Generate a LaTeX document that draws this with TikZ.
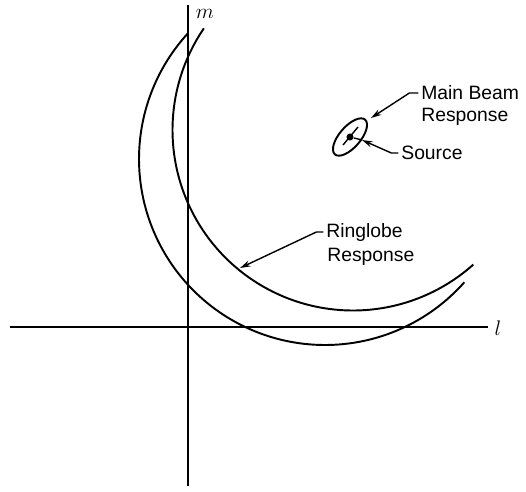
\documentclass[tikz,border=0pt]{standalone}
\usepackage{fontspec}
\setmainfont{Liberation Sans}
\usetikzlibrary{arrows.meta}
\begin{document}
\begin{tikzpicture}[
    x=0.02cm,
    y=-0.02cm,
    font=\fontsize{11}{13}\selectfont,
    >={Stealth[length=6pt,width=3.5pt]},
    axis/.style={line width=1.1pt},
    lobe/.style={line width=1.1pt},
    leader/.style={line width=0.8pt},
    tag/.style={anchor=west, inner sep=0pt},
    axlabel/.style={font=\fontsize{13}{15}\selectfont}
]
    \useasboundingbox (0,0) rectangle (526,491);

    % axes
    \coordinate (m-top) at (188,5);
    \coordinate (m-bot) at (188,486);
    \coordinate (l-left) at (10,327);
    \coordinate (l-right) at (488,327);
    \draw[axis] (m-bot) -- (m-top);
    \draw[axis] (l-left) -- (l-right);
    \node[axlabel] (m-label) at (205,14) {$m$};
    \node[axlabel] (l-label) at (498,328) {$l$};

    % ringlobe arcs
    \draw[lobe] plot[domain=-137.6:-318.5, samples=120]
        ({325+186*cos(\x)}, {159+186*sin(\x)});
    \draw[lobe] plot[domain=-145.7:-311.8, samples=120]
        ({353+180.5*cos(\x)}, {130+180.5*sin(\x)});

    % main beam and source
    \draw[lobe, rotate around={49:(350,137)}] (350,137) ellipse [x radius=23, y radius=10.5];
    \draw[leader] (343,145) -- (358,127);
    \node[circle, fill, inner sep=0pt, minimum size=4pt] (src-dot) at (350,137) {};

    % labels
    \node[tag] (mainbeam) at (421,93) {Main Beam};
    \node[tag] (mainbeam-resp) at (421,117) {Response};
    \node[tag] (source) at (401,153) {Source};
    \node[tag] (ringlobe) at (326,232) {Ringlobe};
    \node[tag] (ringlobe-resp) at (327,257) {Response};

    \coordinate (beam-tip) at (371,118);
    \coordinate (src-tip) at (362,140);
    \coordinate (ring-tip) at (240,268);
    \draw[leader,->] ([xshift=-1.5pt]mainbeam.west) -- ++(-9,0) -- (beam-tip);
    \draw[leader,->] ([xshift=-1.5pt]source.west) -- ++(-7,0) -- (src-tip);
    \draw[leader] (src-tip) -- (src-dot);
    \draw[leader,->] ([xshift=-1.5pt]ringlobe.west) -- ++(-7,0) -- (ring-tip);
\end{tikzpicture}
\end{document}
